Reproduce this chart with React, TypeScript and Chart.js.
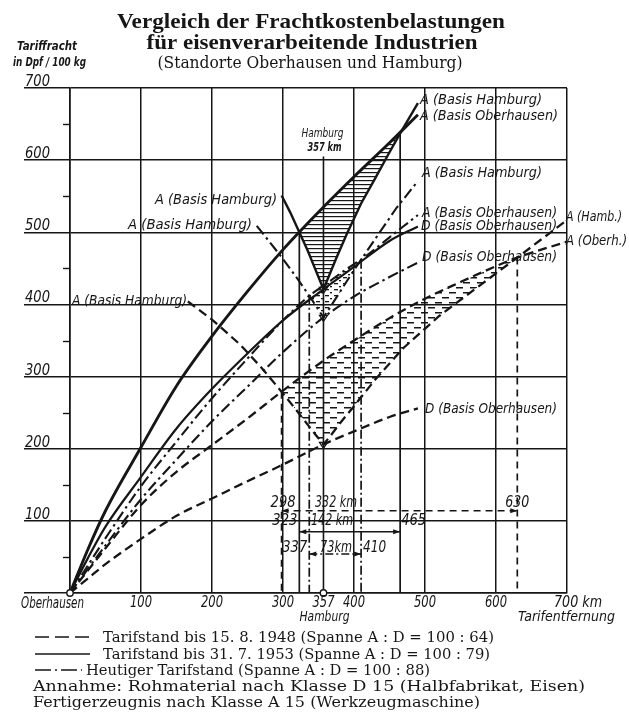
import React, { useEffect, useRef } from "react";
import { Chart, registerables } from "chart.js";
Chart.register(...registerables);

const INK = "#161616";

// ---------- data (km from Oberhausen, Dpf per 100 kg) ----------
// Tarifstand bis 31.7.1953 (solid)
const dist1953 = [0, 25, 50, 100, 150, 200, 250, 300, 357, 400, 450, 490];
const classA1953 = [0, 60, 114, 202, 287, 356, 418, 476, 535, 577, 624, 663];
const classD1953 = [0, 48, 92, 161, 228, 283, 332, 378, 421, 452, 488, 508];
const hamburgDist1953 = [298, 310, 323, 335, 345, 357, 365, 375, 390, 410, 430, 450, 465, 490];
const hamburgA1953 = [551, 528, 500, 474, 450, 421, 440, 464, 498, 540, 575, 611, 637, 679];

// Heutiger Tarifstand (dash-dot)
const distANow = [0, 25, 50, 100, 150, 200, 250, 300, 337, 357, 400, 410, 450, 490];
const classANow = [0, 38, 76, 148, 210, 270, 325, 378, 412, 426, 456, 462, 493, 524];
const distDNow = [0, 25, 50, 100, 150, 200, 250, 300, 357, 400, 450, 490];
const classDNow = [0, 33, 66, 130, 185, 238, 286, 334, 382, 411, 438, 458];
const hamburgDistNow = [263, 280, 300, 320, 337, 347, 357, 367, 380, 395, 410, 430, 460, 490];
const hamburgANow = [509, 488, 463, 436, 412, 397, 382, 397, 417, 440, 462, 491, 534, 571];

// Tarifstand bis 15.8.1948 (dashed)
const distA1948 = [0, 25, 50, 100, 150, 200, 250, 298, 357, 400, 450, 500, 550, 600, 630, 700];
const classA1948 = [0, 31, 62, 122, 168, 205, 242, 279, 322, 350, 381, 408, 431, 453, 465, 487];
const distD1948 = [0, 25, 50, 100, 150, 200, 250, 300, 357, 400, 450, 490];
const classD1948 = [0, 20, 40, 75, 107, 131, 155, 178, 206, 224, 244, 256];
const hamburgDist1948 = [166, 200, 240, 270, 298, 320, 335, 347, 357, 367, 380, 400, 430, 470, 520, 570, 630, 700];
const hamburgA1948 = [404, 379, 344, 312, 279, 252, 233, 218, 206, 218, 235, 259, 296, 340, 384, 421, 465, 517];

// break-even points (km, freight) and their tariff
const crossKm = [298, 323, 337, 410, 465, 630];
const crossValue = [279, 500, 412, 462, 637, 465];
const crossTariff = ["1948", "1953", "now", "now", "1953", "1948"];

// spans between break-even points
const spanFrom = [298, 323, 337];
const spanTo = [630, 465, 410];
const spanLevel = [114, 85, 54];
const spanTariff = ["1948", "1953", "now"];
const spanText = ["332 km", "142 km", "73km"];

const hamburgKm = 357;
const hamburgMarkTop = 605;
const vertexValues = [421, 382, 206];

const yTickLabels = ["100", "200", "300", "400", "500", "600", "700"];
const xTickLabels = ["100", "200", "300", "357", "400", "500", "600"];

// ---------- styles ----------
const DASH = [9, 5];
const DASHDOT = [11, 4, 2.5, 4];

const SANS = '"Liberation Sans Narrow", "DejaVu Sans Condensed", "Roboto Condensed", Roboto, sans-serif';
const LBL = `italic 14px ${SANS}`;
const NUM = `italic 15px ${SANS}`;

const pts = (xs: number[], ys: number[]) => xs.map((x, i) => ({ x, y: ys[i] }));

function drawText(ctx: CanvasRenderingContext2D, s: string, x: number, y: number, font: string, align: "left" | "center" | "right" = "left", width?: number, maxStretch = 1.12) {
  ctx.save();
  ctx.font = font;
  ctx.fillStyle = INK;
  ctx.textBaseline = "alphabetic";
  ctx.textAlign = "left";
  const w = ctx.measureText(s).width;
  const total = width ? width : w;
  const left = align === "left" ? x : align === "center" ? x - total / 2 : x - total;
  let sx = 1;
  let ls = 0;
  if (width && w < width) {
    sx = Math.min(width / w, maxStretch);
    const rest = width - w * sx;
    if (rest > 0 && s.length > 1) ls = rest / sx / (s.length - 1);
  }
  ctx.translate(left, y);
  ctx.scale(sx, 1);
  (ctx as any).letterSpacing = ls > 0 ? `${ls}px` : "0px";
  if (width && w > width) ctx.fillText(s, 0, 0, width);
  else ctx.fillText(s, 0, 0);
  (ctx as any).letterSpacing = "0px";
  ctx.restore();
}

const annotPlugin = {
  id: "annot",
  beforeDatasetsDraw(chart: any) {
    const { ctx, scales } = chart;
    const xs = scales.x, ys = scales.y;
    ctx.save();
    ctx.strokeStyle = INK;
    ctx.lineWidth = 1.4;
    for (let v = 50; v < 700; v += 100) {
      const py = Math.round(ys.getPixelForValue(v)) + 0.5;
      ctx.beginPath();
      ctx.moveTo(xs.left - 7, py);
      ctx.lineTo(xs.left, py);
      ctx.stroke();
    }
    ctx.restore();
  },
  afterDatasetsDraw(chart: any) {
    const { ctx, scales } = chart;
    const xs = scales.x, ys = scales.y;
    ctx.save();
    ctx.fillStyle = INK;
    ctx.strokeStyle = INK;
    spanFrom.forEach((f, i) => {
      const y = ys.getPixelForValue(spanLevel[i]);
      const x1 = xs.getPixelForValue(f);
      const x2 = xs.getPixelForValue(spanTo[i]);
      ctx.beginPath();
      ctx.moveTo(x1, y); ctx.lineTo(x1 + 7, y - 2.5); ctx.lineTo(x1 + 7, y + 2.5); ctx.closePath(); ctx.fill();
      ctx.beginPath();
      ctx.moveTo(x2, y); ctx.lineTo(x2 - 7, y - 2.5); ctx.lineTo(x2 - 7, y + 2.5); ctx.closePath(); ctx.fill();
    });
    ctx.lineWidth = 1.3;
    vertexValues.forEach((v) => {
      const x = xs.getPixelForValue(hamburgKm);
      const y = ys.getPixelForValue(v);
      ctx.beginPath();
      ctx.moveTo(x - 4, y - 2); ctx.lineTo(x + 4, y - 2); ctx.lineTo(x, y + 4); ctx.closePath();
      ctx.stroke();
    });
    [0, hamburgKm].forEach((k) => {
      ctx.beginPath();
      ctx.arc(xs.getPixelForValue(k), ys.getPixelForValue(0), 3.2, 0, Math.PI * 2);
      ctx.fillStyle = "#fff";
      ctx.fill();
      ctx.lineWidth = 1.4;
      ctx.stroke();
    });
    ctx.restore();
  },
  afterDraw(chart: any) {
    const { ctx, scales } = chart;
    const xs = scales.x, ys = scales.y;
    drawText(ctx, "Vergleich der Frachtkostenbelastungen", 311, 28, 'bold 22px "Liberation Serif", serif', "center", 388);
    drawText(ctx, "für eisenverarbeitende Industrien", 312, 49, 'bold 22px "Liberation Serif", serif', "center", 331);
    drawText(ctx, "(Standorte Oberhausen und Hamburg)", 310, 68, '16px "DejaVu Serif", serif', "center", 305);
    drawText(ctx, "Tariffracht", 17, 50, `bold italic 12px ${SANS}`, "left", 60);
    drawText(ctx, "in Dpf / 100 kg", 13, 66, `bold italic 12px ${SANS}`, "left", 73);
    yTickLabels.forEach((t) => {
      drawText(ctx, t, 25, ys.getPixelForValue(Number(t)) - 2, NUM, "left", 25);
    });
    const base = ys.getPixelForValue(0) + 14;
    drawText(ctx, "Oberhausen", 21, base + 1, NUM, "left", 63);
    xTickLabels.forEach((t) => {
      drawText(ctx, t, xs.getPixelForValue(Number(t)), base, NUM, "center", 22);
    });
    drawText(ctx, "700 km", xs.getPixelForValue(700) - 13, base, NUM, "left", 48);
    drawText(ctx, "Hamburg", xs.getPixelForValue(hamburgKm) + 1, base + 14, LBL, "center", 50);
    drawText(ctx, "Tarifentfernung", 518, base + 14, LBL, "left", 97);
    drawText(ctx, "Hamburg", xs.getPixelForValue(hamburgKm) - 1, 137, `italic 12px ${SANS}`, "center", 42);
    drawText(ctx, "357 km", xs.getPixelForValue(hamburgKm) + 1, 151, `bold italic 12px ${SANS}`, "center", 34);
    const labels: [string, number, number, number][] = [
      ["A (Basis Hamburg)", 420, 104, 122],
      ["A (Basis Oberhausen)", 420, 120, 138],
      ["A (Basis Hamburg)", 422, 177, 120],
      ["A (Basis Oberhausen)", 422, 217, 135],
      ["D (Basis Oberhausen)", 421, 230, 136],
      ["D (Basis Oberhausen)", 422, 261, 135],
      ["A (Hamb.)", 566, 221, 56],
      ["A (Oberh.)", 566, 245, 61],
      ["D (Basis Oberhausen)", 425, 413, 132],
      ["A (Basis Hamburg)", 155, 204, 122],
      ["A (Basis Hamburg)", 128, 229, 124],
      ["A (Basis Hamburg)", 72, 305, 115],
    ];
    labels.forEach(([s, x, y, w]) => drawText(ctx, s, x, y, LBL, "left", w));
    const rows = spanLevel.map((v) => ys.getPixelForValue(v) - 4);
    drawText(ctx, "298", xs.getPixelForValue(spanFrom[0]) + 14, rows[0], NUM, "right", 25);
    drawText(ctx, spanText[0], 315, rows[0], NUM, "left", 42);
    drawText(ctx, "630", xs.getPixelForValue(spanTo[0]), rows[0], NUM, "center", 24);
    drawText(ctx, "323", xs.getPixelForValue(spanFrom[1]) - 2, rows[1] - 3, NUM, "right", 25);
    drawText(ctx, spanText[1], 311, rows[1] - 3, NUM, "left", 42);
    drawText(ctx, "465", xs.getPixelForValue(spanTo[1]) + 1, rows[1] - 3, NUM, "left", 25);
    drawText(ctx, "337", xs.getPixelForValue(spanFrom[2]) - 2, rows[2] + 2, NUM, "right", 25);
    drawText(ctx, spanText[2], 320, rows[2] + 2, NUM, "left", 32);
    drawText(ctx, "410", xs.getPixelForValue(spanTo[2]) + 2, rows[2] + 2, NUM, "left", 23);
    ctx.save();
    ctx.strokeStyle = INK;
    ctx.lineWidth = 1.7;
    const sample = (y: number, dash: number[], x2: number) => {
      ctx.setLineDash(dash);
      ctx.beginPath();
      ctx.moveTo(35, y);
      ctx.lineTo(x2, y);
      ctx.stroke();
    };
    sample(637, [14, 6], 95);
    sample(654, [], 90);
    sample(670, [16, 4, 2, 4], 82);
    ctx.restore();
    const LEG = '15px "DejaVu Serif", serif';
    drawText(ctx, "Tarifstand bis 15. 8. 1948 (Spanne A : D = 100 : 64)", 103, 642, LEG, "left", 391, 1.16);
    drawText(ctx, "Tarifstand bis 31. 7. 1953 (Spanne A : D = 100 : 79)", 103, 659, LEG, "left", 387, 1.16);
    drawText(ctx, "Heutiger Tarifstand (Spanne A : D = 100 : 88)", 86, 675, LEG, "left", 344, 1.16);
    drawText(ctx, "Annahme: Rohmaterial nach Klasse D 15 (Halbfabrikat, Eisen)", 33, 691, LEG, "left", 552, 1.16);
    drawText(ctx, "Fertigerzeugnis nach Klasse A 15 (Werkzeugmaschine)", 33, 707, LEG, "left", 447, 1.16);
  },
};

function makePattern(ctx: CanvasRenderingContext2D, kind: string) {
  const c = document.createElement("canvas");
  const g = c.getContext("2d")!;
  if (kind === "lines") {
    c.width = 6; c.height = 4;
    g.fillStyle = INK;
    g.fillRect(0, 0, 6, 1.2);
  } else if (kind === "dashes") {
    c.width = 14; c.height = 10;
    g.fillStyle = INK;
    g.fillRect(1, 2, 7, 1.5);
    g.fillRect(8, 7, 6, 1.5);
    g.fillRect(0, 7, 1, 1.5);
  } else {
    c.width = 9; c.height = 6;
    g.fillStyle = INK;
    g.fillRect(1, 1, 4, 1.3);
    g.fillRect(6, 4, 2, 1.3);
  }
  return ctx.createPattern(c, "repeat");
}

export default function App() {
  const ref = useRef<HTMLCanvasElement | null>(null);
  useEffect(() => {
    const canvas = ref.current!;
    const ctx = canvas.getContext("2d")!;
    const patLines = makePattern(ctx, "lines");
    const patDashes = makePattern(ctx, "dashes");
    const patDots = makePattern(ctx, "dots");
    const clear = "rgba(0,0,0,0)";
    const line = (data: any[], dash: number[], width: number, extra: any = {}) => ({
      data, borderColor: INK, backgroundColor: clear, borderWidth: width, borderDash: dash,
      pointRadius: 0, fill: false, ...extra,
    });
    const mono = { cubicInterpolationMode: "monotone" };
    const datasets: any[] = [
      line(pts(dist1953, classA1953), [], 2.9, mono),
      line(pts(dist1953, classD1953), [], 2.2, mono),
      line(pts(hamburgDist1953, hamburgA1953), [], 2.4, { tension: 0, fill: { target: 0, above: clear, below: patLines } }),
      line(pts(distANow, classANow), DASHDOT, 2.1, mono),
      line(pts(distDNow, classDNow), DASHDOT, 2.1, mono),
      line(pts(hamburgDistNow, hamburgANow), DASHDOT, 2.1, { tension: 0, fill: { target: 3, above: clear, below: patDots } }),
      line(pts(distA1948, classA1948), DASH, 2.3, mono),
      line(pts(distD1948, classD1948), DASH, 2.3, mono),
      line(pts(hamburgDist1948, hamburgA1948), DASH, 2.3, { tension: 0, fill: { target: 6, above: clear, below: patDashes } }),
    ];
    crossKm.forEach((k, i) => {
      datasets.push(line([{ x: k, y: crossValue[i] }, { x: k, y: 0 }], crossTariff[i] === "1953" ? [] : crossTariff[i] === "1948" ? [7, 5] : [9, 3, 2, 3], 1.7));
    });
    datasets.push(line([{ x: hamburgKm, y: hamburgMarkTop }, { x: hamburgKm, y: 0 }], [], 1.6));
    spanFrom.forEach((f, i) => {
      datasets.push(line([{ x: f, y: spanLevel[i] }, { x: spanTo[i], y: spanLevel[i] }], spanTariff[i] === "1953" ? [] : spanTariff[i] === "1948" ? [7, 5] : [8, 3, 2, 3], 1.4));
    });

    const chart = new Chart(canvas, {
      type: "line",
      data: { datasets },
      plugins: [annotPlugin],
      options: {
        responsive: false,
        animation: false,
        events: [],
        layout: { padding: { left: 24, top: 88, right: 62, bottom: 122 } },
        plugins: { legend: { display: false }, tooltip: { enabled: false }, title: { display: false } },
        elements: { line: { borderCapStyle: "butt" }, point: { radius: 0 } },
        scales: {
          x: {
            type: "linear", min: 0, max: 700,
            ticks: { display: false, stepSize: 100 },
            grid: { color: INK, lineWidth: 1.5, drawTicks: false },
            border: { display: true, color: INK, width: 1.6 },
          },
          y: {
            type: "linear", min: 0, max: 700,
            ticks: { display: false, stepSize: 100 },
            grid: { color: INK, lineWidth: 1.5, drawTicks: true, tickLength: 46 },
            border: { display: true, color: INK, width: 1.6 },
          },
        },
      } as any,
    });
    return () => chart.destroy();
  }, []);
  return (
    <div style={{ position: "absolute", left: 0, top: 0, width: 629, height: 715, background: "#fff" }}>
      <canvas ref={ref} width={629} height={715} style={{ display: "block", width: 629, height: 715 }} />
    </div>
  );
}
